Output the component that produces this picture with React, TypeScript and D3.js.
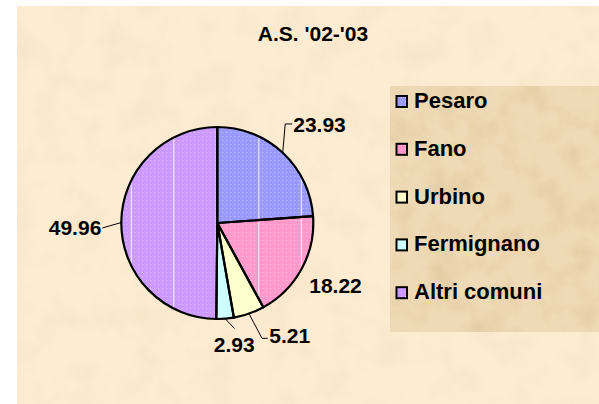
import { Component } from "react";
import * as d3 from "d3";

const chartTitle = "A.S. '02-'03";
const comuni = ["Pesaro", "Fano", "Urbino", "Fermignano", "Altri comuni"];
const percentuali = [23.93, 18.22, 5.21, 2.93, 49.96];
const etichette = ["23.93", "18.22", "5.21", "2.93", "49.96"];

const colori = ["#9999ff", "#ff99cc", "#ffffcc", "#ccffff", "#cc99ff"];

/**
 * Where each data label sits, as offsets from the point on the rim
 * at the middle of its slice (the leader line starts there).
 */
const labelLayout = [
    { elbow: [2.5, -28.8], end: [9.5, -28.8], text: [10.5, -20.8], anchor: "start" },
    { elbow: null, end: null, text: [7.7, 24], anchor: "start" },
    { elbow: [13, 24.7], end: [18.8, 24.7], text: [20.3, 29.4], anchor: "start" },
    { elbow: [9.4, 9.8], end: null, text: [9.1, 33.3], anchor: "middle" },
    { elbow: [-19, 5.5], end: null, text: [-20, 12.5], anchor: "end" },
];

const FONT = "'Liberation Sans', Arial, Helvetica, sans-serif";

class SchoolPieChart extends Component {
    componentDidMount() {
        this.draw();
    }

    componentDidUpdate() {
        this.draw();
    }

    draw() {
        const width = 599;
        const height = 404;
        const svg = d3.select("#as-pie-svg")
            .attr("width", width)
            .attr("height", height);
        svg.selectAll("*").remove();

        const defs = svg.append("defs");

        // mottled paper texture, brown noise with varying alpha
        const paper = (id: string, amount: number, freq: number, seed: number) => {
            const f = defs.append("filter").attr("id", id)
                .attr("x", 0).attr("y", 0).attr("width", 1).attr("height", 1);
            f.append("feTurbulence")
                .attr("type", "fractalNoise")
                .attr("baseFrequency", freq)
                .attr("numOctaves", 4)
                .attr("seed", seed);
            f.append("feColorMatrix")
                .attr("type", "matrix")
                .attr("values", `0 0 0 0 0.7  0 0 0 0 0.52  0 0 0 0 0.28  ${amount} 0 0 0 ${-amount * 0.42}`);
        };
        paper("paper-bg", 0.3, 0.03, 3);
        paper("paper-legend", 1.0, 0.035, 8);

        colori.forEach((c, i) => {
            const p = defs.append("pattern").attr("id", `dots-${i}`)
                .attr("patternUnits", "userSpaceOnUse")
                .attr("width", 4).attr("height", 4);
            p.append("rect").attr("width", 4).attr("height", 4).attr("fill", c);
            p.append("rect").attr("x", 1).attr("y", 1).attr("width", 1).attr("height", 1)
                .attr("fill", "#ffffff").attr("opacity", 0.45);
        });

        // backgrounds
        const bg = { x: 17, y: 6 };
        svg.append("rect").attr("x", bg.x).attr("y", bg.y)
            .attr("width", width - bg.x).attr("height", height - bg.y)
            .attr("fill", "#fdecd2");
        svg.append("rect").attr("x", bg.x).attr("y", bg.y)
            .attr("width", width - bg.x).attr("height", height - bg.y)
            .attr("filter", "url(#paper-bg)");

        const legendBox = { x: 390, y: 86, h: 246 };
        svg.append("rect").attr("x", legendBox.x).attr("y", legendBox.y)
            .attr("width", width - legendBox.x).attr("height", legendBox.h)
            .attr("fill", "#eedab6");
        svg.append("rect").attr("x", legendBox.x).attr("y", legendBox.y)
            .attr("width", width - legendBox.x).attr("height", legendBox.h)
            .attr("filter", "url(#paper-legend)");

        svg.append("text")
            .attr("x", 313).attr("y", 40.5)
            .attr("text-anchor", "middle")
            .attr("font-family", FONT).attr("font-weight", "bold").attr("font-size", 21)
            .attr("fill", "#000")
            .text(chartTitle);

        // pie
        const cx = 217.3;
        const cy = 223;
        const radius = 96;
        const pie = d3.pie<number>().sort(null).value(d => d);
        const arcs = pie(percentuali);
        const arcGen = d3.arc<d3.PieArcDatum<number>>().innerRadius(0).outerRadius(radius);

        const g = svg.append("g").attr("transform", `translate(${cx},${cy})`);

        defs.append("clipPath").attr("id", "pie-clip")
            .append("circle").attr("cx", 0).attr("cy", 0).attr("r", radius);

        g.selectAll(".slice-fill")
            .data(arcs)
            .join("path")
            .attr("class", "slice-fill")
            .attr("d", d => arcGen(d))
            .attr("fill", (_, i) => `url(#dots-${i})`);

        // white seams of the texture showing through
        g.append("g").attr("clip-path", "url(#pie-clip)")
            .selectAll("line")
            .data(d3.range(-2, 3))
            .join("line")
            .attr("x1", k => -1 + k * 42.5).attr("x2", k => -1 + k * 42.5)
            .attr("y1", -radius).attr("y2", radius)
            .attr("stroke", "#ffffff").attr("stroke-width", 1).attr("opacity", 0.85);

        g.selectAll(".slice-edge")
            .data(arcs)
            .join("path")
            .attr("class", "slice-edge")
            .attr("d", d => arcGen(d))
            .attr("fill", "none")
            .attr("stroke", "#000")
            .attr("stroke-width", 2.2)
            .attr("stroke-linejoin", "round");

        // labels + leader lines
        const rim = (d: d3.PieArcDatum<number>) => {
            const a = (d.startAngle + d.endAngle) / 2;
            return [radius * Math.sin(a), -radius * Math.cos(a)];
        };

        arcs.forEach((d, i) => {
            const lay = labelLayout[i];
            const [px, py] = rim(d);
            if (lay.elbow) {
                const pts: [number, number][] = [[px, py], [px + lay.elbow[0], py + lay.elbow[1]]];
                if (lay.end) pts.push([px + lay.end[0], py + lay.end[1]]);
                g.append("path")
                    .attr("d", d3.line()(pts))
                    .attr("fill", "none")
                    .attr("stroke", "#000")
                    .attr("stroke-width", 1);
            }
            g.append("text")
                .attr("x", px + lay.text[0])
                .attr("y", py + lay.text[1])
                .attr("text-anchor", lay.anchor)
                .attr("font-family", FONT).attr("font-weight", "bold").attr("font-size", 21)
                .attr("fill", "#000")
                .text(etichette[i]);
        });

        // legend
        const legendX = 396;
        const legendY = d3.scalePoint<string>()
            .domain(comuni)
            .range([108, 299.2]);

        const items = svg.append("g").selectAll("g")
            .data(comuni)
            .join("g")
            .attr("transform", d => `translate(${legendX},${legendY(d)})`);

        items.append("rect")
            .attr("x", 0.5).attr("y", -12)
            .attr("width", 10.5).attr("height", 11)
            .attr("fill", (_, i) => `url(#dots-${i})`)
            .attr("stroke", "#000").attr("stroke-width", 2);

        items.append("text")
            .attr("x", 18).attr("y", 0)
            .attr("font-family", FONT).attr("font-weight", "bold").attr("font-size", 22)
            .attr("fill", "#000")
            .text(d => d);
    }

    render() {
        return (
            <div>
                <svg id="as-pie-svg" style={{ position: "absolute", left: 0, top: 0 }} />
            </div>
        );
    }
}

export default SchoolPieChart;
